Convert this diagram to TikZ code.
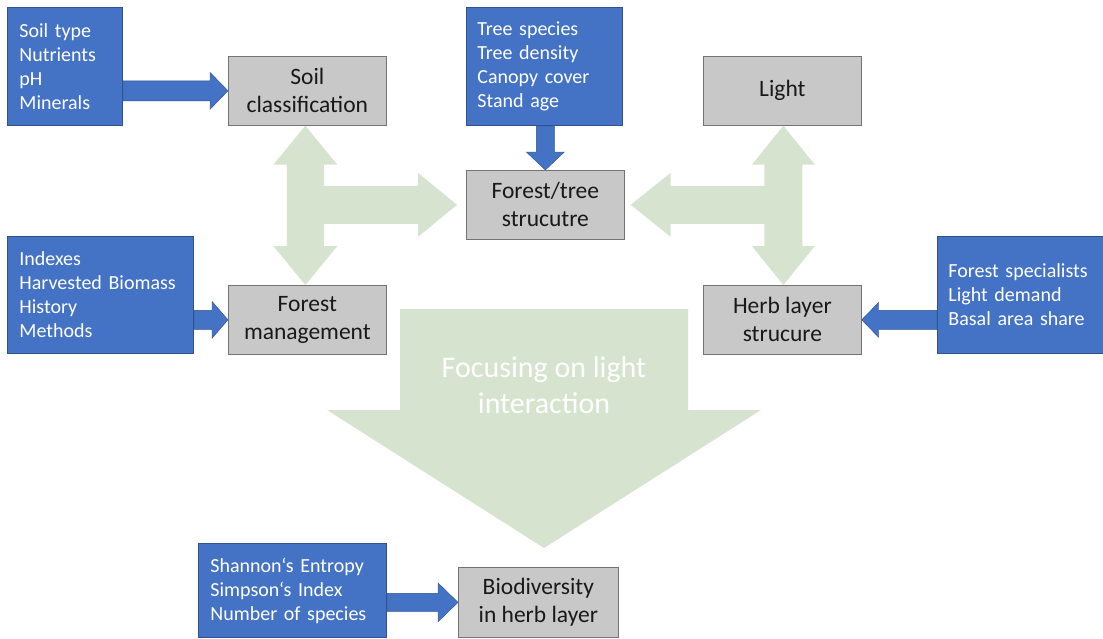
\documentclass[tikz,border=0pt]{standalone}
\usepackage{fontspec}
\setmainfont{Carlito}
\usetikzlibrary{calc}
\definecolor{boxblue}{RGB}{68,114,196}
\definecolor{blueline}{RGB}{47,82,143}
\definecolor{boxgray}{RGB}{200,200,200}
\definecolor{grayline}{RGB}{115,115,115}
\definecolor{softgreen}{RGB}{214,227,207}

\newcommand\rightblock[5]{%
  \fill[arrblue] let \p1=(#1), \p2=(#2) in
  (\x1,\y2+#3) -- (\x2-#5,\y2+#3) -- (\x2-#5,\y2+#4) -- (\x2,\y2) --
  (\x2-#5,\y2-#4) -- (\x2-#5,\y2-#3) -- (\x1,\y2-#3) -- cycle;}
\newcommand\leftblock[5]{%
  \fill[arrblue] let \p1=(#1), \p2=(#2) in
  (\x1,\y2+#3) -- (\x2+#5,\y2+#3) -- (\x2+#5,\y2+#4) -- (\x2,\y2) --
  (\x2+#5,\y2-#4) -- (\x2+#5,\y2-#3) -- (\x1,\y2-#3) -- cycle;}
\newcommand\downblock[5]{%
  \fill[arrblue] let \p1=(#1), \p2=(#2) in
  (\x2+#3,\y1) -- (\x2+#3,\y2+#5) -- (\x2+#4,\y2+#5) -- (\x2,\y2) --
  (\x2-#4,\y2+#5) -- (\x2-#3,\y2+#5) -- (\x2-#3,\y1) -- cycle;}

\begin{document}
\begin{tikzpicture}[x=1pt,y=-1pt,
  bluebox/.style={draw=blueline, line width=0.8pt, fill=boxblue, text=white,
    align=left, font=\fontsize{20}{24}\selectfont, inner xsep=12pt,
    inner ysep=0pt, anchor=north west},
  graybox/.style={draw=grayline, line width=0.7pt, fill=boxgray, text=black!90,
    align=center, font=\fontsize{23.5}{28}\selectfont, inner sep=0pt,
    anchor=north west, minimum width=158pt, minimum height=69pt},
  arrblue/.style={fill=boxblue, draw=blueline, line width=0.4pt},
  greenarr/.style={fill=softgreen},
  bigtext/.style={text=white, align=center, font=\fontsize{30}{36}\selectfont}]

\useasboundingbox (0,0) rectangle (1103,638);

% gray boxes
\node[graybox] (soil) at (228,56) {Soil\\classification};
\node[graybox] (ft) at (466,170) {Forest/tree\\strucutre};
\node[graybox] (light) at (703,56) {Light};
\node[graybox] (fm) at (228,285) {Forest\\management};
\node[graybox] (herb) at (703,285) {Herb layer\\strucure};
\node[graybox, minimum width=160pt, minimum height=70pt] (bio) at (458,567) {Biodiversity\\in herb layer};

% blue boxes
\node[bluebox, text width=91pt, minimum height=118pt] (b1) at (7,7)
  {Soil type\\Nutrients\\pH\\Minerals};
\node[bluebox, text width=134pt, minimum height=118pt, inner xsep=11pt] (b2) at (466,7)
  {Tree species\\Tree density\\Canopy cover\\Stand age};
\node[bluebox, text width=162pt, minimum height=117pt] (b3) at (7,236)
  {Indexes\\Harvested Biomass\\History\\Methods};
\node[bluebox, text width=145pt, minimum height=117pt, inner xsep=11pt] (b4) at (937,236)
  {Forest specialists\\Light demand\\Basal area share};
\node[bluebox, text width=164pt, minimum height=94pt] (b5) at (198,543)
  {Shannon‘s Entropy\\Simpson‘s Index\\Number of species};

% green T arrows
\fill[greenarr] let \p1=([xshift=-2pt]soil.south), \p2=([xshift=-2pt]fm.north),
  \p3=([xshift=-9pt]ft.west) in
  (\x1,\y1) -- (\x1+32pt,\y1-39pt) -- (\x1+18.5pt,\y1-39pt) -- (\x1+18.5pt,\y3+19pt)
  -- (\x3-39pt,\y3+19pt) -- (\x3-39pt,\y3+32pt) -- (\x3,\y3) -- (\x3-39pt,\y3-32pt)
  -- (\x3-39pt,\y3-19pt) -- (\x1+18.5pt,\y3-19pt) -- (\x1+18.5pt,\y2+39pt)
  -- (\x1+32pt,\y2+39pt) -- (\x1,\y2) -- (\x1-32pt,\y2+39pt) -- (\x1-18.5pt,\y2+39pt)
  -- (\x1-18.5pt,\y1-39pt) -- (\x1-32pt,\y1-39pt) -- cycle;
\fill[greenarr] let \p1=([xshift=1pt]light.south), \p2=([xshift=1pt]herb.north),
  \p3=([xshift=6pt]ft.east) in
  (\x1,\y1) -- (\x1-31.5pt,\y1-39pt) -- (\x1-19pt,\y1-39pt) -- (\x1-19pt,\y3+19pt)
  -- (\x3+40pt,\y3+19pt) -- (\x3+40pt,\y3+32pt) -- (\x3,\y3) -- (\x3+40pt,\y3-32pt)
  -- (\x3+40pt,\y3-19pt) -- (\x1-19pt,\y3-19pt) -- (\x1-19pt,\y2+39pt)
  -- (\x1-31.5pt,\y2+39pt) -- (\x1,\y2) -- (\x1+31.5pt,\y2+39pt) -- (\x1+19pt,\y2+39pt)
  -- (\x1+19pt,\y1-39pt) -- (\x1+31.5pt,\y1-39pt) -- cycle;

% big arrow
\fill[greenarr] (400,309) -- (688,309) -- (688,410) -- (761,410) -- (544,548)
  -- (327,410) -- (400,410) -- cycle;
\node[bigtext] (focus) at (544,385) {Focusing on light\\interaction};

% blue arrows
\rightblock{b1.east}{soil.west}{10pt}{18.5pt}{18pt}
\rightblock{b3.east}{fm.west}{9.5pt}{18.5pt}{16pt}
\rightblock{b5.east}{bio.west}{9pt}{19.5pt}{20pt}
\leftblock{b4.west}{herb.east}{9.5pt}{17.5pt}{17pt}
\downblock{b2.south}{ft.north}{9pt}{19pt}{18pt}

\end{tikzpicture}
\end{document}
